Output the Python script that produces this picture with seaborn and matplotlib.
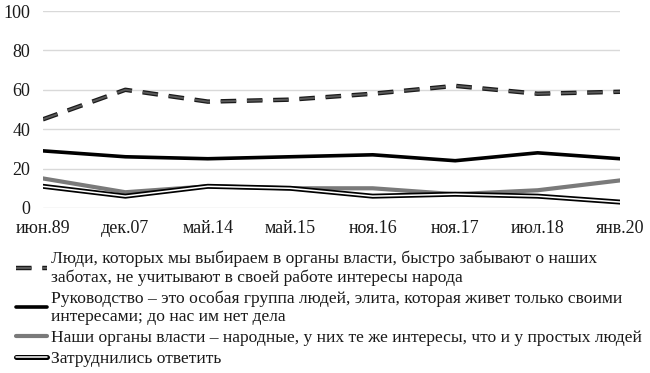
import numpy as np
import pandas as pd
import seaborn as sns
from matplotlib import pyplot as plt
import matplotlib.patheffects as pe

# survey dates and shares (%)
months = ['июн.89', 'дек.07', 'май.14', 'май.15', 'ноя.16', 'ноя.17', 'июл.18', 'янв.20']
forget = [45, 60, 54, 55, 58, 62, 58, 59]
elite = [29, 26, 25, 26, 27, 24, 28, 25]
people = [15, 8, 11, 10, 10, 7, 9, 14]
hard = [11, 6, 11, 10, 6, 7, 6, 3]

labels = [
    'Люди, которых мы выбираем в органы власти, быстро забывают о наших\nзаботах, не учитывают в своей работе интересы народа',
    'Руководство – это особая группа людей, элита, которая живет только своими\nинтересами; до нас им нет дела',
    'Наши органы власти – народные, у них те же интересы, что и у простых людей',
    'Затруднились ответить',
]

sns.set_style('white')
plt.rcParams['font.family'] = ['Liberation Serif', 'DejaVu Serif']

fig = plt.figure(figsize=(6.5, 3.73), dpi=100)
ax = fig.add_axes([0.066, 0.4424, 0.888, 0.5281])

x = np.arange(len(months))
sns.lineplot(x=x, y=forget, ax=ax, color='#5a5a5a', lw=1.4, label=labels[0],
             linestyle=(0, (8, 5.5)),
             path_effects=[pe.Stroke(linewidth=3.2, foreground='#1a1a1a'), pe.Normal()])
sns.lineplot(x=x, y=elite, ax=ax, color='black', lw=2.6, label=labels[1])
sns.lineplot(x=x, y=people, ax=ax, color='#7a7a7a', lw=3, label=labels[2])
sns.lineplot(x=x, y=hard, ax=ax, color='white', lw=1.1, label=labels[3],
             path_effects=[pe.Stroke(linewidth=3.6, foreground='black'), pe.Normal()])

ax.set_xlim(0, 7)
ax.set_ylim(0, 100)
ax.set_yticks(range(0, 101, 20))
ax.set_xticks(x)
ax.set_xticklabels(months)
ax.grid(axis='y', color='#d9d9d9', lw=1)
ax.set_axisbelow(True)
sns.despine(ax=ax, left=True, bottom=True, top=True, right=True)
ax.tick_params(axis='both', length=0, labelsize=13, colors='#1a1a1a')
ax.tick_params(axis='y', pad=9)
ax.tick_params(axis='x', pad=9)

ax.legend(loc='upper left', bbox_to_anchor=(0.024, 0.328), bbox_transform=fig.transFigure,
          frameon=False, fontsize=12.6, handlelength=1.8, handletextpad=0.2,
          labelspacing=0.28, borderaxespad=0, borderpad=0)
for t in ax.get_legend().get_texts():
    t.set_linespacing(1.15)
    t.set_color('#1a1a1a')

fig.savefig('out.png', dpi=100)
